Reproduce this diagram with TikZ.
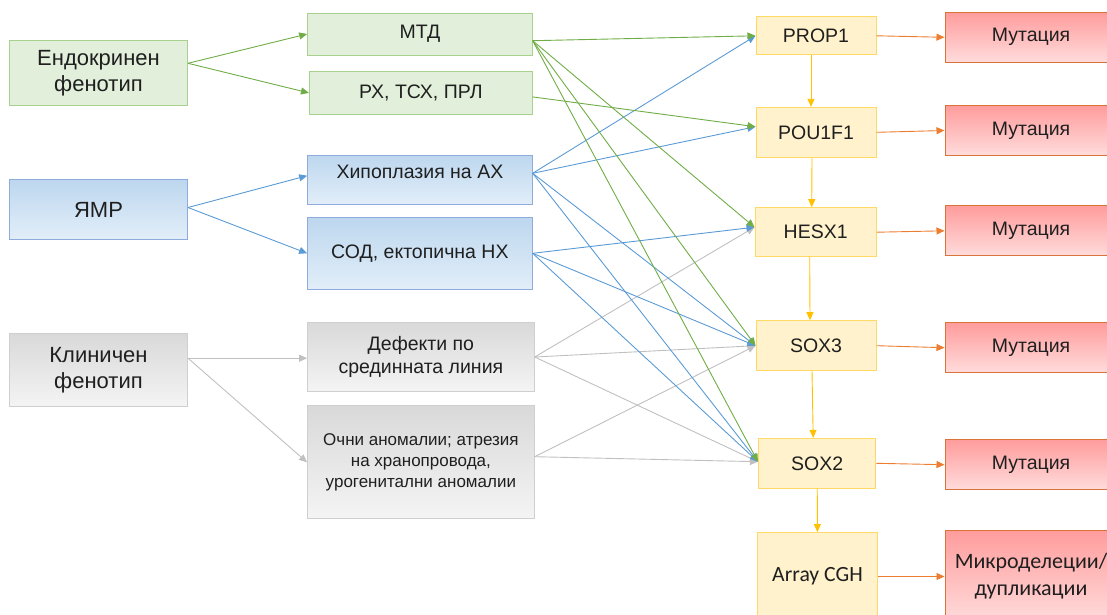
\documentclass[tikz,border=0pt]{standalone}
\usepackage{fontspec}
\setmainfont{Liberation Sans}
\newfontfamily\calibrifont{Carlito}
\usetikzlibrary{arrows.meta}
\usepackage{xcolor}
\definecolor{greenfill}{HTML}{E2EFDA}
\definecolor{greenedge}{HTML}{A9D18E}
\definecolor{greenline}{HTML}{70AD47}
\definecolor{bluetop}{HTML}{BDD7EE}
\definecolor{bluebot}{HTML}{E2EEF9}
\definecolor{blueedge}{HTML}{8FAADC}
\definecolor{blueline}{HTML}{5B9BD5}
\definecolor{graytop}{HTML}{D9D9D9}
\definecolor{graybot}{HTML}{F4F4F4}
\definecolor{grayedge}{HTML}{CFCFCF}
\definecolor{grayline}{HTML}{ABABAB}
\definecolor{genefill}{HTML}{FFF2CC}
\definecolor{geneedge}{HTML}{FFD966}
\definecolor{geneline}{HTML}{FFC000}
\definecolor{redtop}{HTML}{FF9C9C}
\definecolor{redbot}{HTML}{FFDCDC}
\definecolor{rededge}{HTML}{D9733A}
\definecolor{orangeline}{HTML}{ED7D31}

\begin{document}
\begin{tikzpicture}[x=1pt,y=-1pt,
  box/.style={draw,line width=1pt,inner sep=3pt,align=center,text=black!88,
    font=\fontsize{19.5}{26}\selectfont},
  groupbox/.style={font=\fontsize{22}{26.5}\selectfont},
  greenbox/.style={box,draw=greenedge,fill=greenfill},
  bluebox/.style={box,draw=blueedge,top color=bluetop,bottom color=bluebot},
  graybox/.style={box,draw=grayedge,top color=graytop,bottom color=graybot},
  genebox/.style={box,draw=geneedge,fill=genefill},
  mutbox/.style={box,draw=rededge,top color=redtop,bottom color=redbot},
  link/.style={line width=0.9pt,-{Triangle[length=8pt,width=7pt]}},
  greenlink/.style={link,greenline},
  bluelink/.style={link,blueline},
  graylink/.style={link,grayline!75},
  genelink/.style={link,geneline},
  mutlink/.style={link,orangeline}]
  \useasboundingbox (0,0) rectangle (1107,614);
  \clip (0,0) rectangle (1107,614);

  % phenotype groups
  \node[greenbox,groupbox,minimum width=178,minimum height=64.6] (endo) at (98.5,73)
        {Ендокринен\\фенотип};
  \node[bluebox,groupbox,minimum width=178,minimum height=59.6] (ymr) at (98.5,209.5) {ЯМР};
  \node[graybox,groupbox,minimum width=178,minimum height=73] (clin) at (98.5,370.2)
        {Клиничен\\фенотип};

  % findings
  \node[greenbox,minimum width=224.5,minimum height=42] (mtd) at (419.9,34) {МТД};
  \node[greenbox,minimum width=222.7,minimum height=42.3] (rx) at (420.8,92.9) {РХ, ТСХ, ПРЛ};
  \node[bluebox,minimum width=224.5,minimum height=48.7,text depth=16pt] (hypo) at (419.9,179.7)
        {Хипоплазия на АХ};
  \node[bluebox,minimum width=224.5,minimum height=72] (sod) at (419.9,253.3)
        {СОД, ектопична НХ};
  \node[graybox,minimum width=226.6,minimum height=68.6,font=\fontsize{19.5}{22.7}\selectfont]
        (midl) at (420.9,357) {Дефекти по\\срединната линия};
  \node[graybox,minimum width=226.6,minimum height=112.7,font=\fontsize{17}{20.8}\selectfont]
        (eye) at (420.9,462.3)
        {Очни аномалии; атрезия\\на хранопровода,\\урогенитални аномалии};

  % genes and results
  \foreach \g/\txt/\x/\y/\w/\h/\m/\my in {
      prop/PROP1/816/35.8/120/38.3/mprop/37.3,
      pou/POU1F1/816/132.3/120/50/mpou/130.5,
      hesx/HESX1/815.7/232.2/121.4/49/mhesx/230.8,
      soxthree/SOX3/816/345.7/120/50/msoxthree/347.7,
      soxtwo/SOX2/817.2/463.3/117.5/50/msoxtwo/464.7} {
    \node[genebox,minimum width=\w,minimum height=\h] (\g) at (\x,\y) {\txt};
    \node[mutbox,minimum width=172,minimum height=50] (\m) at (1031,\my) {Мутация};
    \draw[mutlink] (\g.east) -- (\m.west);
  }
  \node[genebox,minimum width=120,minimum height=88,font=\calibrifont\fontsize{21.7}{26}\selectfont]
        (cgh) at (817.5,576.5) {Array CGH};
  \node[mutbox,minimum width=172,minimum height=93,font=\calibrifont\fontsize{22}{27}\selectfont]
        (mmicro) at (1031,576.5) {Микроделеции/\\дупликации};
  \draw[mutlink] (cgh.east) -- (mmicro.west);

  \draw[genelink] ([xshift=-5pt]prop.south) -- ([xshift=-5pt]pou.north);
  \draw[genelink] ([xshift=-4pt]pou.south) -- ([xshift=-4pt]hesx.north);
  \draw[genelink] ([xshift=-6pt]hesx.south) -- ([xshift=-6pt]soxthree.north);
  \draw[genelink] ([xshift=-4pt]soxthree.south) -- ([xshift=-4pt]soxtwo.north);
  \draw[genelink] (soxtwo) -- (cgh);

  % groups -> findings
  \coordinate (endo-out) at ([yshift=9.7pt]endo.east);
  \coordinate (ymr-out) at ([yshift=2pt]ymr.east);
  \coordinate (clin-out) at ([yshift=12pt]clin.east);
  \draw[greenlink] (endo-out) -- (mtd.west);
  \draw[greenlink] (endo-out) -- (rx.west);
  \draw[bluelink] (ymr-out) -- ([yshift=4pt]hypo.west);
  \draw[bluelink] (ymr-out) -- (sod.west);
  \draw[graylink] (clin-out) -- (clin-out -| midl.west);
  \draw[graylink] (clin-out) -- (eye.west);

  % findings -> genes
  \coordinate (mtd-out) at ([yshift=-6.7pt]mtd.east);
  \coordinate (rx-out) at ([yshift=-4pt]rx.east);
  \coordinate (hypo-out) at ([yshift=6.4pt]hypo.east);
  \coordinate (sod-out) at (sod.east);
  \coordinate (midl-out) at (midl.east);
  \coordinate (eye-out) at ([yshift=5.6pt]eye.east);
  \coordinate (prop-in) at (prop.west);
  \coordinate (pou-in) at ([yshift=5.6pt]pou.west);
  \coordinate (hesx-in) at ([yshift=5pt]hesx.west);
  \coordinate (soxthree-in) at (soxthree.west);
  \coordinate (soxtwo-in) at ([yshift=1.6pt]soxtwo.west);

  \foreach \a/\b in {midl/hesx, midl/soxthree, midl/soxtwo, eye/soxthree, eye/soxtwo}
    \draw[graylink] (\a-out) -- (\b-in);
  \foreach \a/\b in {hypo/prop, hypo/pou, hypo/soxthree, hypo/soxtwo,
                     sod/hesx, sod/soxthree, sod/soxtwo}
    \draw[bluelink] (\a-out) -- (\b-in);
  \foreach \a/\b in {mtd/prop, mtd/hesx, mtd/soxthree, mtd/soxtwo, rx/pou}
    \draw[greenlink] (\a-out) -- (\b-in);
\end{tikzpicture}
\end{document}
